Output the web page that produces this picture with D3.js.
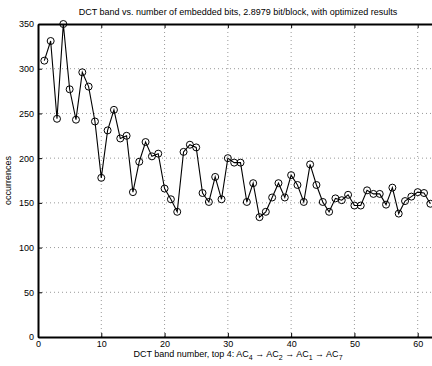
<!DOCTYPE html>
<html>
<head>
<meta charset="utf-8">
<script src="https://cdn.jsdelivr.net/npm/d3@7"></script>
<style>
  body { margin: 0; background: #fff; }
  svg { display: block; font-family: "Liberation Sans", Arial, Helvetica, sans-serif; }
</style>
</head>
<body>
<div id="chart"></div>
<script>
// DCT band index (1..62 visible) and occurrences
const bands = d3.range(1, 63);
const occurrences = [
  309, 331, 244, 350, 277, 243, 296, 280, 241, 178,
  231, 254, 222, 225, 162, 196, 218, 202, 205, 166,
  154, 140, 207, 215, 212, 161, 151, 179, 154, 200,
  195, 195, 151, 172, 134, 140, 156, 172, 156, 181,
  170, 151, 193, 170, 151, 140, 155, 153, 159, 147,
  147, 164, 160, 160, 148, 167, 138, 152, 157, 162,
  161, 149
];
const xTicks = [0, 10, 20, 30, 40, 50, 60];
const yTicks = [0, 50, 100, 150, 200, 250, 300, 350];

const width = 432, height = 366;
const mLeft = 38, mRight = 443, mTop = 24, mBottom = 337;

const svg = d3.select("#chart").append("svg")
    .attr("width", width)
    .attr("height", height);

const x = d3.scaleLinear().domain([0, 64]).range([mLeft, mRight]);
const y = d3.scaleLinear().domain([0, 350]).range([mBottom, mTop]);

// grid
svg.append("g")
    .selectAll("line")
    .data(xTicks.filter(d => d > 0))
    .enter().append("line")
    .attr("x1", d => x(d)).attr("x2", d => x(d))
    .attr("y1", mTop).attr("y2", mBottom)
    .attr("stroke", "#999").attr("stroke-width", 1)
    .attr("stroke-dasharray", "1,3");

svg.append("g")
    .selectAll("line")
    .data(yTicks.filter(d => d > 0 && d < 350))
    .enter().append("line")
    .attr("x1", mLeft).attr("x2", mRight)
    .attr("y1", d => y(d)).attr("y2", d => y(d))
    .attr("stroke", "#999").attr("stroke-width", 1)
    .attr("stroke-dasharray", "1,3");

// axes
const xAxis = svg.append("g")
    .attr("transform", `translate(0,${mBottom})`)
    .call(d3.axisBottom(x).tickValues(xTicks).tickSizeInner(-4).tickSizeOuter(0).tickPadding(5));
const yAxis = svg.append("g")
    .attr("transform", `translate(${mLeft},0)`)
    .call(d3.axisLeft(y).tickValues(yTicks).tickSizeInner(-4).tickSizeOuter(0).tickPadding(4));

svg.append("g")
    .attr("transform", `translate(0,${mTop})`)
    .call(d3.axisTop(x).tickValues(xTicks).tickSizeInner(-4).tickSizeOuter(0).tickFormat(""));

[xAxis, yAxis].forEach(g => {
  g.selectAll("text").attr("font-size", 9).attr("fill", "#000")
   .attr("font-family", "Liberation Sans, Arial, sans-serif");
});
svg.selectAll(".domain").attr("stroke", "#000").attr("stroke-width", 2);
svg.selectAll(".tick line").attr("stroke", "#000");
xAxis.selectAll("text").attr("dy", "0.55em");

// line
const line = d3.line()
    .x((d, i) => x(bands[i]))
    .y(d => y(d));

svg.append("path")
    .datum(occurrences)
    .attr("fill", "none")
    .attr("stroke", "#000")
    .attr("stroke-width", 1.1)
    .attr("d", line);

svg.append("g")
    .selectAll("circle")
    .data(occurrences)
    .enter().append("circle")
    .attr("cx", (d, i) => x(bands[i]))
    .attr("cy", d => y(d))
    .attr("r", 3.5)
    .attr("fill", "none")
    .attr("stroke", "#000")
    .attr("stroke-width", 1);

// title
svg.append("text")
    .attr("x", 238).attr("y", 15)
    .attr("text-anchor", "middle")
    .attr("font-size", 9)
    .text("DCT band vs. number of embedded bits, 2.8979 bit/block, with optimized results");

// x label with subscripts
const xl = svg.append("text")
    .attr("x", 238).attr("y", 357)
    .attr("text-anchor", "middle")
    .attr("font-size", 9);
const subs = ["4", "2", "1", "7"];
xl.append("tspan").text("DCT band number, top 4: AC");
subs.forEach((s, i) => {
  xl.append("tspan").attr("dy", 3).attr("font-size", 7).text(s);
  const rest = i < subs.length - 1 ? " \u2192 AC" : "";
  if (rest) xl.append("tspan").attr("dy", -3).text(rest);
});

// y label
svg.append("text")
    .attr("transform", `translate(11,${(mTop + mBottom) / 2}) rotate(-90)`)
    .attr("text-anchor", "middle")
    .attr("font-size", 9)
    .text("occurrences");
</script>
</body>
</html>
